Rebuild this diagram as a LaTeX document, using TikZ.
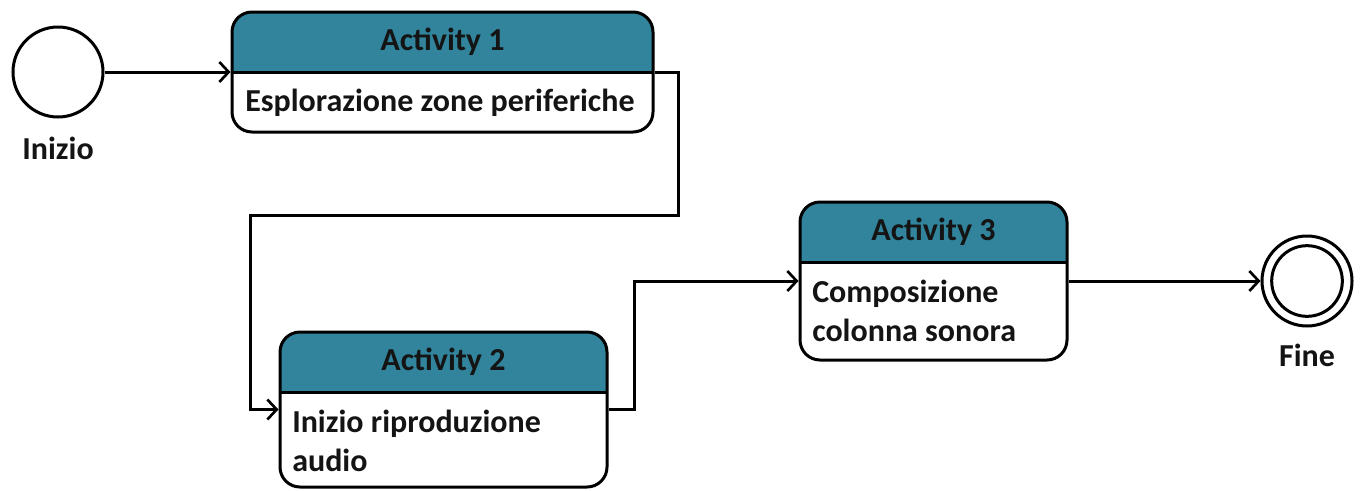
\documentclass[tikz,border=0pt]{standalone}
\usepackage{fontspec}
\setmainfont{Carlito}
\usetikzlibrary{arrows.meta}
\definecolor{headteal}{HTML}{31849B}
\definecolor{inktext}{HTML}{141414}
\tikzset{
  flow/.style={line width=2.25pt, -{Straight Barb[length=7pt,width=15pt,line width=2pt]}},
  actbox/.style={draw, line width=2.25pt, rounded corners=15pt, fill=white,
    inner sep=0pt,
    path picture={\fill[headteal, sharp corners] (path picture bounding box.north west)
        rectangle ([yshift=-45pt]path picture bounding box.north east);
      \draw[line width=2.25pt, sharp corners] ([yshift=-45pt]path picture bounding box.north west)
        -- ([yshift=-45pt]path picture bounding box.north east);}},
  headtext/.style={inner sep=0pt, font=\fontsize{24}{29}\selectfont\bfseries, text=inktext},
  bodytext/.style={inner sep=0pt, anchor=west, align=left, font=\fontsize{24}{29.5}\selectfont\bfseries, text=inktext},
  statering/.style={draw, circle, line width=2.25pt, inner sep=0pt}
}
\begin{document}
\begin{tikzpicture}[x=0.75pt,y=-0.75pt]
\useasboundingbox (0,0) rectangle (1362,490);

% start and end states
\node[statering, minimum size=67.5pt] (ini) at (58,72) {};
\node[headtext] (iniL) at (58,148) {Inizio};
\node[statering, minimum size=67.5pt] (fin) at (1307,281) {};
\node[statering, minimum size=53pt] (finIn) at (1307,281) {};
\node[headtext] (finL) at (1307,355) {Fine};

% activity boxes
\node[actbox, minimum width=315.75pt, minimum height=90pt] (a1) at (442.5,72) {};
\node[headtext] (a1h) at (442.5,42) {Activity 1};
\node[bodytext] (a1t) at (245,103) {Esplorazione zone periferiche};

\node[actbox, minimum width=245.25pt, minimum height=116.25pt] (a2) at (443.5,409.5) {};
\node[headtext] (a2h) at (443.5,362) {Activity 2};
\node[bodytext] (a2t) at (292,441) {Inizio riproduzione\\audio};

\node[actbox, minimum width=200.25pt, minimum height=118.5pt] (a3) at (933.5,281) {};
\node[headtext] (a3h) at (933.5,232) {Activity 3};
\node[bodytext] (a3t) at (812,311) {Composizione\\colonna sonora};

% transitions
\draw[flow] (ini) -- (a1.west);
\draw[flow] (a1.east) -- ++(24,0) |- (250,215) |- (a2.west);
\draw[flow] (a2.east) -- ++(26,0) |- (a3.west);
\draw[flow] (a3.east) -- (fin.west);
\end{tikzpicture}
\end{document}
